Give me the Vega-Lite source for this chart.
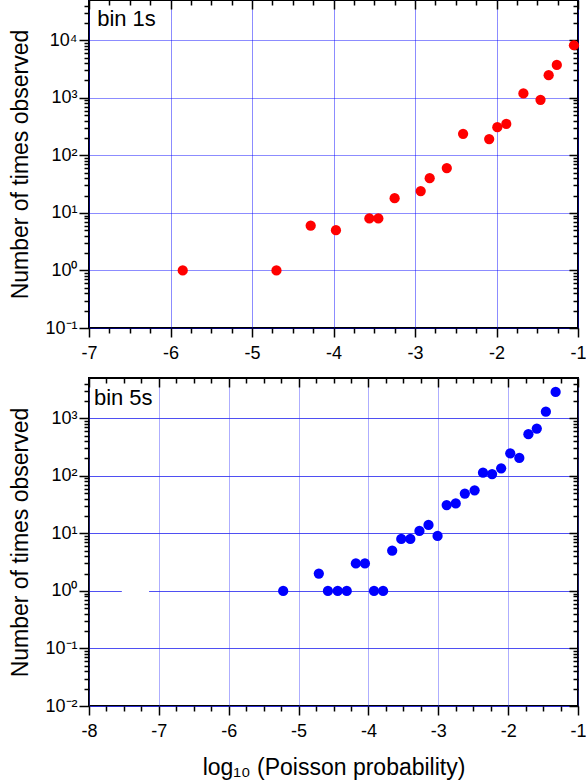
{
  "$schema": "https://vega.github.io/schema/vega-lite/v6.json",
  "padding": {"left": 8, "top": -2, "right": 7, "bottom": 0},
  "spacing": 13,
  "config": {
    "font": "Liberation Sans",
    "view": {"stroke": "black", "strokeWidth": 2},
    "axis": {
      "labelFont": "Liberation Sans",
      "titleFont": "Liberation Sans",
      "labelFontSize": 18,
      "titleFontSize": 23,
      "titleFontWeight": "normal",
      "labelColor": "black",
      "titleColor": "black",
      "domain": false,
      "grid": false,
      "labels": false,
      "title": null,
      "tickColor": "black",
      "tickWidth": 1.5,
      "labelFlush": false,
      "labelOverlap": false,
      "labelBound": false
    }
  },
  "datasets": {
    "bin1": [
      {"logp": -5.85, "count": 1},
      {"logp": -4.70, "count": 1},
      {"logp": -4.28, "count": 6},
      {"logp": -3.97, "count": 5},
      {"logp": -3.56, "count": 8},
      {"logp": -3.45, "count": 8},
      {"logp": -3.25, "count": 18},
      {"logp": -2.93, "count": 24},
      {"logp": -2.82, "count": 40},
      {"logp": -2.61, "count": 60},
      {"logp": -2.41, "count": 236},
      {"logp": -2.09, "count": 192},
      {"logp": -1.99, "count": 309},
      {"logp": -1.88, "count": 352},
      {"logp": -1.67, "count": 1190},
      {"logp": -1.46, "count": 920},
      {"logp": -1.36, "count": 2470},
      {"logp": -1.26, "count": 3730},
      {"logp": -1.05, "count": 8180}
    ],
    "bin5": [
      {"logp": -5.22, "count": 1},
      {"logp": -4.71, "count": 2},
      {"logp": -4.58, "count": 1},
      {"logp": -4.44, "count": 1},
      {"logp": -4.31, "count": 1},
      {"logp": -4.18, "count": 3},
      {"logp": -4.05, "count": 3},
      {"logp": -3.92, "count": 1},
      {"logp": -3.79, "count": 1},
      {"logp": -3.66, "count": 5},
      {"logp": -3.53, "count": 8},
      {"logp": -3.40, "count": 8},
      {"logp": -3.27, "count": 11},
      {"logp": -3.14, "count": 14},
      {"logp": -3.01, "count": 9},
      {"logp": -2.88, "count": 31},
      {"logp": -2.75, "count": 33},
      {"logp": -2.62, "count": 49},
      {"logp": -2.48, "count": 56},
      {"logp": -2.36, "count": 113},
      {"logp": -2.23, "count": 107},
      {"logp": -2.10, "count": 135},
      {"logp": -1.97, "count": 246},
      {"logp": -1.84, "count": 204},
      {"logp": -1.71, "count": 527},
      {"logp": -1.59, "count": 660},
      {"logp": -1.46, "count": 1300},
      {"logp": -1.32, "count": 2865}
    ],
    "label1": [{"logp": -6.9, "count": 17500, "label": "bin 1s"}],
    "label5": [{"logp": -7.93, "count": 1680, "label": "bin 5s"}],
    "gap5": [{"from": -7.53, "to": -7.14, "count": 1}]
  },
  "vconcat": [
    {
      "width": 489,
      "height": 328,
      "layer": [
        {
          "data": {"name": "bin1"},
          "mark": {"type": "circle", "size": 105, "color": "#ff0000", "opacity": 1},
          "encoding": {
            "x": {
              "field": "logp", "type": "quantitative",
              "scale": {"domain": [-7, -1], "nice": false, "zero": false},
              "axis": {
                "orient": "bottom", "values": [-7, -6, -5, -4, -3, -2, -1],
                "labels": true, "labelExpr": "'' + round(datum.value)", "labelPadding": 7,
                "tickSize": 9,
                "grid": true, "gridColor": "#0000ff", "gridDash": [1, 1], "gridWidth": 1, "gridOpacity": 0.9
              }
            },
            "y": {
              "field": "count", "type": "quantitative",
              "scale": {"type": "log", "domain": [0.1, 50000], "nice": false},
              "axis": {
                "orient": "left", "values": [0.1, 1, 10, 100, 1000, 10000],
                "labels": true,
                "labelExpr": "'10' + (round(log(datum.value)/LN10) < 0 ? '⁻' : '') + ['⁰','¹','²','³','⁴'][abs(round(log(datum.value)/LN10))]",
                "labelPadding": 2, "tickSize": 10,
                "title": "Number of times observed", "titlePadding": 12,
                "grid": true, "gridColor": "#0000ff", "gridDash": [1, 1], "gridWidth": 1, "gridOpacity": 0.9
              }
            }
          }
        },
        {
          "data": {"name": "label1"},
          "mark": {"type": "text", "fontSize": 22, "font": "Liberation Sans", "align": "left", "baseline": "alphabetic", "color": "black"},
          "encoding": {
            "x": {
              "field": "logp", "type": "quantitative",
              "axis": {"orient": "bottom", "tickSize": 5, "values": [-6.75, -6.5, -6.25, -5.75, -5.5, -5.25, -4.75, -4.5, -4.25, -3.75, -3.5, -3.25, -2.75, -2.5, -2.25, -1.75, -1.5, -1.25]}
            },
            "y": {
              "field": "count", "type": "quantitative",
              "axis": {"orient": "left", "tickSize": 5, "values": [0.2, 0.3, 0.4, 0.5, 0.6, 0.7, 0.8, 0.9, 2, 3, 4, 5, 6, 7, 8, 9, 20, 30, 40, 50, 60, 70, 80, 90, 200, 300, 400, 500, 600, 700, 800, 900, 2000, 3000, 4000, 5000, 6000, 7000, 8000, 9000, 20000, 30000, 40000]}
            },
            "text": {"field": "label"}
          }
        },
        {
          "data": {"name": "label1"},
          "mark": {"type": "text", "text": ""},
          "encoding": {
            "x": {"field": "logp", "type": "quantitative", "axis": {"orient": "top", "offset": -9, "tickSize": 9, "values": [-7, -6, -5, -4, -3, -2, -1]}},
            "y": {"field": "count", "type": "quantitative", "axis": {"orient": "right", "offset": -9, "tickSize": 9, "values": [0.1, 1, 10, 100, 1000, 10000]}}
          }
        },
        {
          "data": {"name": "label1"},
          "mark": {"type": "text", "text": ""},
          "encoding": {
            "x": {
              "field": "logp", "type": "quantitative",
              "axis": {"orient": "top", "offset": -5, "tickSize": 5, "values": [-6.75, -6.5, -6.25, -5.75, -5.5, -5.25, -4.75, -4.5, -4.25, -3.75, -3.5, -3.25, -2.75, -2.5, -2.25, -1.75, -1.5, -1.25]}
            },
            "y": {
              "field": "count", "type": "quantitative",
              "axis": {"orient": "right", "offset": -5, "tickSize": 5, "values": [0.2, 0.3, 0.4, 0.5, 0.6, 0.7, 0.8, 0.9, 2, 3, 4, 5, 6, 7, 8, 9, 20, 30, 40, 50, 60, 70, 80, 90, 200, 300, 400, 500, 600, 700, 800, 900, 2000, 3000, 4000, 5000, 6000, 7000, 8000, 9000, 20000, 30000, 40000]}
            }
          }
        }
      ],
      "resolve": {"axis": {"x": "independent", "y": "independent"}}
    },
    {
      "width": 489,
      "height": 328,
      "layer": [
        {
          "data": {"name": "gap5"},
          "mark": {"type": "rule", "color": "white", "strokeWidth": 4},
          "encoding": {
            "x": {"field": "from", "type": "quantitative", "axis": null},
            "x2": {"field": "to"},
            "y": {"field": "count", "type": "quantitative", "axis": null}
          }
        },
        {
          "data": {"name": "bin5"},
          "mark": {"type": "circle", "size": 105, "color": "#0000ff", "opacity": 1},
          "encoding": {
            "x": {
              "field": "logp", "type": "quantitative",
              "scale": {"domain": [-8, -1], "nice": false, "zero": false},
              "axis": {
                "orient": "bottom", "values": [-8, -7, -6, -5, -4, -3, -2, -1],
                "labels": true, "labelExpr": "'' + round(datum.value)", "labelPadding": 7,
                "tickSize": 9,
                "title": "log₁₀ (Poisson probability)", "titlePadding": 16,
                "grid": true, "gridColor": "#4040ff", "gridDash": [1, 1], "gridWidth": 1, "gridOpacity": 0.85
              }
            },
            "y": {
              "field": "count", "type": "quantitative",
              "scale": {"type": "log", "domain": [0.01, 5000], "nice": false},
              "axis": {
                "orient": "left", "values": [0.01, 0.1, 1, 10, 100, 1000],
                "labels": true,
                "labelExpr": "'10' + (round(log(datum.value)/LN10) < 0 ? '⁻' : '') + ['⁰','¹','²','³','⁴'][abs(round(log(datum.value)/LN10))]",
                "labelPadding": 2, "tickSize": 10,
                "title": "Number of times observed", "titlePadding": 12,
                "grid": true, "gridColor": "#3030f0", "gridWidth": 1, "gridOpacity": 0.85
              }
            }
          }
        },
        {
          "data": {"name": "label5"},
          "mark": {"type": "text", "fontSize": 22, "font": "Liberation Sans", "align": "left", "baseline": "alphabetic", "color": "black"},
          "encoding": {
            "x": {
              "field": "logp", "type": "quantitative",
              "axis": {"orient": "bottom", "tickSize": 5, "values": [-7.75, -7.5, -7.25, -6.75, -6.5, -6.25, -5.75, -5.5, -5.25, -4.75, -4.5, -4.25, -3.75, -3.5, -3.25, -2.75, -2.5, -2.25, -1.75, -1.5, -1.25]}
            },
            "y": {
              "field": "count", "type": "quantitative",
              "axis": {"orient": "left", "tickSize": 5, "values": [0.02, 0.03, 0.04, 0.05, 0.06, 0.07, 0.08, 0.09, 0.2, 0.3, 0.4, 0.5, 0.6, 0.7, 0.8, 0.9, 2, 3, 4, 5, 6, 7, 8, 9, 20, 30, 40, 50, 60, 70, 80, 90, 200, 300, 400, 500, 600, 700, 800, 900, 2000, 3000, 4000]}
            },
            "text": {"field": "label"}
          }
        },
        {
          "data": {"name": "label5"},
          "mark": {"type": "text", "text": ""},
          "encoding": {
            "x": {"field": "logp", "type": "quantitative", "axis": {"orient": "top", "offset": -9, "tickSize": 9, "values": [-8, -7, -6, -5, -4, -3, -2, -1]}},
            "y": {"field": "count", "type": "quantitative", "axis": {"orient": "right", "offset": -9, "tickSize": 9, "values": [0.01, 0.1, 1, 10, 100, 1000]}}
          }
        },
        {
          "data": {"name": "label5"},
          "mark": {"type": "text", "text": ""},
          "encoding": {
            "x": {
              "field": "logp", "type": "quantitative",
              "axis": {"orient": "top", "offset": -5, "tickSize": 5, "values": [-7.75, -7.5, -7.25, -6.75, -6.5, -6.25, -5.75, -5.5, -5.25, -4.75, -4.5, -4.25, -3.75, -3.5, -3.25, -2.75, -2.5, -2.25, -1.75, -1.5, -1.25]}
            },
            "y": {
              "field": "count", "type": "quantitative",
              "axis": {"orient": "right", "offset": -5, "tickSize": 5, "values": [0.02, 0.03, 0.04, 0.05, 0.06, 0.07, 0.08, 0.09, 0.2, 0.3, 0.4, 0.5, 0.6, 0.7, 0.8, 0.9, 2, 3, 4, 5, 6, 7, 8, 9, 20, 30, 40, 50, 60, 70, 80, 90, 200, 300, 400, 500, 600, 700, 800, 900, 2000, 3000, 4000]}
            }
          }
        }
      ],
      "resolve": {"axis": {"x": "independent", "y": "independent"}}
    }
  ]
}
